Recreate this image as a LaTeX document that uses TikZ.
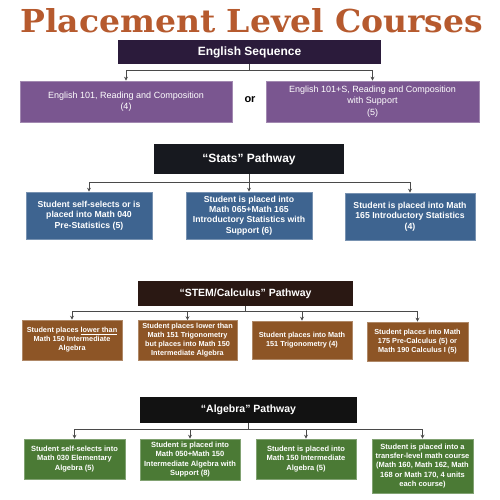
\documentclass[tikz,border=0pt]{standalone}
\usepackage{fontspec}
\setmainfont{Liberation Sans}
\newfontfamily\titlefont{DejaVu Serif Condensed}
\usetikzlibrary{arrows.meta}
\definecolor{titlec}{HTML}{B65A2E}
\definecolor{enghdr}{HTML}{2B1B3B}
\definecolor{engbox}{HTML}{7A5690}
\definecolor{stathdr}{HTML}{17191F}
\definecolor{statbox}{HTML}{3E6490}
\definecolor{stemhdr}{HTML}{2A1813}
\definecolor{stembox}{HTML}{8D5526}
\definecolor{alghdr}{HTML}{121212}
\definecolor{algbox}{HTML}{4B7A35}
\definecolor{linec}{HTML}{4A4A4A}
\tikzset{
  box/.style={inner sep=0pt, align=center, text=white, line width=0.6pt},
  hdrbig/.style={box, font=\fontsize{12}{14}\selectfont\bfseries},
  hdrsmall/.style={box, font=\fontsize{10.5}{12.5}\selectfont\bfseries},
  engstyle/.style={box, fill=engbox, draw=engbox!70!white, font=\fontsize{9}{11.5}\selectfont},
  statstyle/.style={box, fill=statbox, draw=statbox!70!white, font=\fontsize{8.7}{10.4}\selectfont\bfseries},
  stemstyle/.style={box, fill=stembox, draw=stembox!70!white, font=\fontsize{7.3}{9}\selectfont\bfseries},
  algstyle/.style={box, fill=algbox, draw=algbox!70!white, font=\fontsize{7.5}{9.2}\selectfont\bfseries},
  conn/.style={draw=linec, line width=0.8pt, -{Stealth[length=4pt,width=4pt]}},
  trunk/.style={draw=linec, line width=0.8pt}
}
\begin{document}
\begin{tikzpicture}[x=1pt,y=-1pt]
\useasboundingbox (0,0) rectangle (500,500);
% title
\node[anchor=base west, inner sep=0pt, text=titlec] (title) at (20,33)
  {\resizebox{463pt}{24pt}{\titlefont\bfseries Placement Level Courses}};
% English
\node[hdrbig, fill=enghdr, minimum width=263pt, minimum height=24pt] (eng) at (249.5,52) {English Sequence};
\node[engstyle, minimum width=212pt, minimum height=41pt] (e1) at (126,101.5) {English 101, Reading and Composition\\(4)};
\node[engstyle, minimum width=213pt, minimum height=41pt] (e2) at (372.5,101.5) {English 101+S, Reading and Composition\\with Support\\(5)};
\node[inner sep=0pt, font=\fontsize{11}{13}\selectfont\bfseries] (or) at (250,100) {or};
\coordinate (ej) at (249.5,70);
\draw[trunk] (eng.south) -- (ej);
\draw[conn] (ej) -| (e1.north);
\draw[conn] (ej) -| (e2.north);
% Stats
\node[hdrbig, fill=stathdr, minimum width=190pt, minimum height=30pt] (stats) at (249,159) {``Stats'' Pathway};
\node[statstyle, minimum width=126pt, minimum height=47pt] (s1) at (89,215.5) {Student self-selects or is\\placed into Math 040\\Pre-Statistics (5)};
\node[statstyle, minimum width=126pt, minimum height=47pt] (s2) at (249,215.5) {Student is placed into\\Math 065+Math 165\\Introductory Statistics with\\Support (6)};
\node[statstyle, minimum width=130pt, minimum height=47pt] (s3) at (410,216.5) {Student is placed into Math\\165 Introductory Statistics\\(4)};
\coordinate (sj) at (249,182);
\draw[trunk] (stats.south) -- (sj);
\draw[conn] (sj) -| (s1.north);
\draw[conn] (sj) -- (s2.north);
\draw[conn] (sj) -| (s3.north);
% STEM
\node[hdrsmall, fill=stemhdr, minimum width=215pt, minimum height=25pt] (stem) at (245.5,293.5) {``STEM/Calculus'' Pathway};
\node[stemstyle, minimum width=100pt, minimum height=40pt] (b1) at (72,340) {Student places \underline{lower than}\\Math 150 Intermediate\\Algebra};
\node[stemstyle, minimum width=99pt, minimum height=40pt] (b2) at (187.5,340.5) {Student places lower than\\Math 151 Trigonometry\\but places into Math 150\\Intermediate Algebra};
\node[stemstyle, minimum width=100pt, minimum height=38pt] (b3) at (302,340) {Student places into Math\\151 Trigonometry (4)};
\node[stemstyle, minimum width=101pt, minimum height=39pt] (b4) at (417.5,341.5) {Student places into Math\\175 Pre-Calculus (5) or\\Math 190 Calculus I (5)};
\coordinate (tj) at (245.5,311);
\draw[trunk] (stem.south) -- (tj);
\draw[conn] (tj) -| (b1.north);
\draw[conn] (tj) -| (b2.north);
\draw[conn] (tj) -| (b3.north);
\draw[conn] (tj) -| (b4.north);
% Algebra
\node[hdrsmall, fill=alghdr, minimum width=217pt, minimum height=26pt] (alg) at (248.5,410) {``Algebra'' Pathway};
\node[algstyle, minimum width=101pt, minimum height=40pt] (g1) at (74.5,459) {Student self-selects into\\Math 030 Elementary\\Algebra (5)};
\node[algstyle, minimum width=100pt, minimum height=41pt] (g2) at (190,459.5) {Student is placed into\\Math 050+Math 150\\Intermediate Algebra with\\Support (8)};
\node[algstyle, minimum width=100pt, minimum height=40pt] (g3) at (306,459) {Student is placed into\\Math 150 Intermediate\\Algebra (5)};
\node[algstyle, minimum width=101pt, minimum height=54pt] (g4) at (422.5,466) {Student is placed into a\\transfer-level math course\\(Math 160, Math 162, Math\\168 or Math 170, 4 units\\each course)};
\coordinate (aj) at (248.5,429);
\draw[trunk] (alg.south) -- (aj);
\draw[conn] (aj) -| (g1.north);
\draw[conn] (aj) -| (g2.north);
\draw[conn] (aj) -| (g3.north);
\draw[conn] (aj) -| (g4.north);
\end{tikzpicture}
\end{document}
